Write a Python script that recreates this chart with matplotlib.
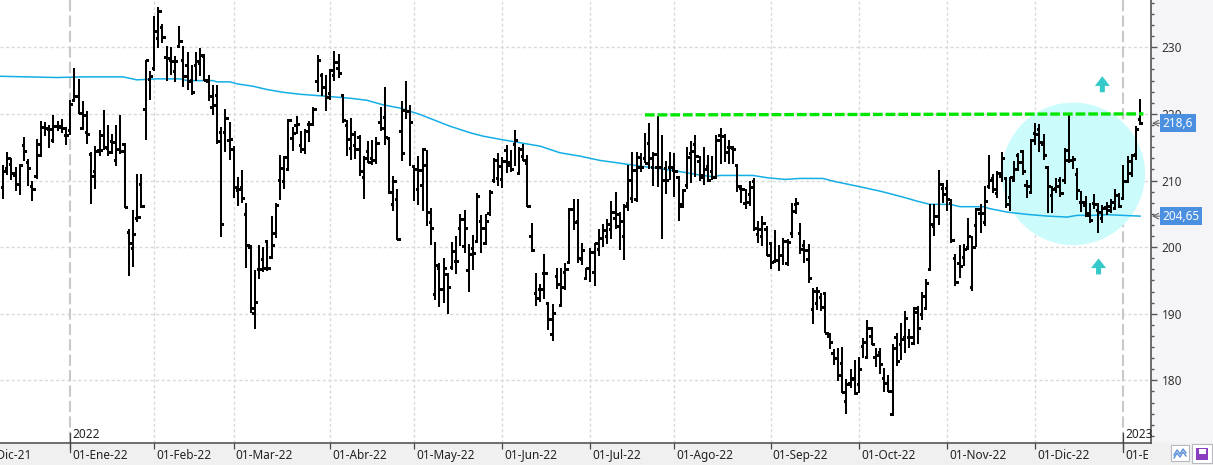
import matplotlib
matplotlib.use("Agg")
import matplotlib.pyplot as plt
import numpy as np
import pandas as pd
from matplotlib.patches import Ellipse, Rectangle, Polygon
from matplotlib.transforms import blended_transform_factory, ScaledTranslation
from matplotlib.ticker import MultipleLocator, FixedLocator

plt.rcParams['font.family'] = ['Noto Sans', 'DejaVu Sans']

# ---------------- data ----------------
holidays = ['2021-12-24', '2022-01-17', '2022-02-21', '2022-04-15', '2022-05-30',
            '2022-06-20', '2022-07-04', '2022-09-05', '2022-11-24', '2022-12-26',
            '2023-01-02']
dates = pd.bdate_range('2021-12-09', '2023-01-09', freq='C', holidays=holidays)

opens = [209.05, 211.9, 212.55, 210.9, 209.55, 215.3, 212.8, 209.15, 210.65, 213.9,
         218.05, 217.8, 216.15, 218.15, 218.05, 216.9, 217.65, 222.15, 222.65, 217.9,
         217.3, 214.0, 211.4, 214.55, 216.9, 214.9, 215.9, 213.15, 214.8, 215.5,
         202.3, 199.8, 204.4, 209.55, 220.8, 225.3, 226.9, 231.4, 233.05, 228.55,
         228.15, 226.4, 230.25, 228.05, 227.4, 225.15, 227.3, 227.65, 228.65, 224.9,
         221.05, 222.9, 217.3, 217.3, 216.15, 214.75, 208.5, 209.05, 205.0, 200.05,
         190.15, 196.65, 198.15, 200.9, 198.55, 202.15, 210.15, 210.0, 211.8, 216.4,
         218.4, 215.3, 214.8, 218.55, 218.55, 225.0, 225.9, 224.0, 223.15, 225.9,
         226.9, 222.9, 218.4, 214.9, 215.4, 216.55, 210.55, 214.4, 213.4, 213.15,
         218.75, 219.55, 216.4, 206.4, 207.15, 217.5, 220.65, 220.4, 212.15, 208.65,
         209.4, 212.4, 203.8, 192.9, 196.9, 193.65, 196.0, 197.05, 197.9, 202.9,
         200.15, 196.5, 199.8, 200.9, 203.95, 200.65, 205.15, 210.15, 210.4, 210.25,
         214.65, 212.75, 215.5, 211.15, 213.75, 212.65, 201.7, 193.05, 193.65, 196.05,
         191.55, 187.0, 195.65, 191.3, 196.25, 197.75, 205.75, 203.9, 198.25, 195.4,
         196.9, 196.3, 199.65, 201.3, 201.65, 202.65, 204.4, 204.9, 201.65, 206.55,
         207.3, 207.15, 213.5, 213.4, 215.65, 212.05, 212.05, 212.05, 211.9, 212.05,
         211.65, 210.55, 206.15, 209.4, 214.15, 215.5, 212.9, 210.5, 212.15, 211.4,
         210.55, 216.8, 216.65, 215.05, 214.9, 212.4, 208.9, 206.65, 208.0, 209.9,
         202.0, 201.65, 202.65, 200.55, 197.9, 198.0, 198.8, 197.65, 202.15, 206.4,
         202.15, 200.25, 198.15, 190.65, 191.65, 192.55, 193.05, 186.65, 184.15, 183.4,
         182.65, 176.9, 179.55, 180.15, 179.4, 185.15, 183.5, 186.65, 183.5, 184.3,
         180.4, 179.55, 175.0, 186.55, 185.4, 186.55, 186.55, 185.55, 190.8, 189.9,
         190.8, 196.65, 203.15, 204.65, 208.8, 208.9, 206.65, 198.4, 197.65, 198.5,
         200.05, 194.05, 203.25, 205.05, 203.75, 209.15, 210.4, 208.05, 210.65, 210.4,
         207.55, 210.15, 213.9, 214.4, 209.4, 208.25, 217.15, 217.75, 215.55, 212.05,
         207.8, 208.9, 210.15, 210.15, 213.05, 213.15, 211.05, 206.75, 206.3, 205.05,
         206.65, 205.55, 204.3, 206.0, 205.55, 205.9, 207.75, 207.4, 209.9, 211.15,
         214.05, 219.3]
highs = [212.3, 214.3, 213.4, 212.05, 212.55, 216.5, 213.3, 209.9, 216.25, 219.0,
         218.8, 218.3, 219.9, 219.0, 219.3, 218.05, 222.15, 226.9, 225.25, 222.0,
         220.5, 214.3, 215.15, 217.65, 220.65, 218.4, 217.0, 218.4, 219.8, 215.65,
         202.75, 205.5, 211.0, 211.05, 228.15, 226.4, 234.75, 236.0, 233.55, 230.25,
         230.0, 228.75, 233.25, 230.15, 229.25, 227.4, 229.25, 229.9, 229.0, 225.9,
         224.3, 224.4, 218.05, 220.8, 218.75, 215.25, 210.55, 211.65, 206.55, 200.3,
         196.55, 200.25, 200.05, 201.05, 204.65, 206.55, 213.8, 213.65, 219.3, 218.05,
         219.75, 217.4, 217.75, 219.0, 221.05, 228.9, 226.15, 225.8, 226.8, 229.4,
         229.05, 222.9, 219.15, 219.4, 217.4, 216.9, 213.65, 215.9, 216.15, 216.55,
         221.05, 224.0, 216.55, 210.65, 208.65, 221.9, 225.0, 221.4, 212.4, 213.65,
         214.9, 214.65, 205.8, 200.8, 197.65, 198.4, 196.15, 200.75, 201.65, 204.9,
         205.5, 200.5, 201.8, 208.05, 204.8, 204.9, 208.5, 213.4, 214.15, 213.5,
         215.4, 214.55, 217.65, 215.05, 215.5, 213.8, 203.55, 196.05, 194.4, 198.9,
         191.75, 191.4, 196.8, 196.9, 197.55, 205.8, 207.15, 207.15, 200.65, 196.9,
         199.9, 200.65, 202.65, 203.5, 204.15, 206.9, 208.25, 205.25, 206.4, 212.4,
         214.25, 214.25, 214.15, 217.15, 218.65, 214.3, 219.65, 216.9, 212.9, 214.25,
         214.15, 210.55, 208.75, 215.0, 216.0, 216.8, 213.65, 215.0, 213.8, 213.65,
         216.9, 217.9, 217.0, 216.15, 215.25, 212.4, 209.4, 208.65, 209.9, 210.4,
         203.9, 204.65, 203.15, 200.65, 202.5, 200.25, 201.3, 201.15, 206.55, 207.3,
         203.55, 201.0, 200.4, 193.9, 194.05, 193.15, 193.25, 187.05, 184.65, 184.8,
         185.0, 180.15, 181.65, 183.0, 183.55, 186.4, 189.0, 188.05, 184.9, 184.9,
         181.9, 180.75, 185.5, 187.15, 188.65, 190.4, 187.75, 191.05, 191.15, 193.3,
         195.25, 206.4, 206.4, 211.65, 209.65, 210.15, 207.15, 198.9, 200.25, 200.5,
         204.3, 201.65, 205.9, 206.4, 209.15, 213.9, 211.05, 211.4, 214.25, 210.55,
         210.5, 213.0, 214.15, 214.55, 210.15, 216.3, 218.65, 218.5, 217.0, 212.25,
         209.15, 210.4, 210.55, 214.9, 219.9, 213.65, 211.9, 208.4, 207.65, 206.65,
         208.0, 206.65, 206.25, 206.75, 207.15, 208.65, 208.15, 212.4, 213.65, 214.0,
         218.25, 222.25]
lows = [207.15, 210.8, 210.05, 208.4, 207.8, 212.9, 209.15, 206.9, 210.3, 213.8,
        216.65, 214.9, 215.65, 217.4, 217.15, 215.4, 216.9, 221.75, 220.0, 217.65,
        215.55, 206.5, 208.75, 213.75, 214.65, 213.65, 214.05, 212.15, 214.05, 205.9,
        195.65, 197.05, 203.8, 205.9, 216.05, 222.05, 226.5, 229.9, 230.65, 224.9,
        225.9, 224.75, 230.15, 224.0, 223.55, 222.8, 224.9, 225.65, 225.0, 221.9,
        219.9, 215.55, 201.5, 214.25, 213.15, 207.3, 206.15, 206.55, 196.9, 190.05,
        187.65, 195.25, 196.25, 196.4, 198.25, 201.4, 207.05, 208.75, 211.75, 214.5,
        217.05, 214.15, 214.05, 215.75, 218.25, 223.25, 222.75, 220.4, 222.05, 225.0,
        225.4, 218.65, 213.65, 213.05, 213.3, 210.65, 207.15, 212.65, 212.4, 212.55,
        217.4, 215.3, 208.0, 205.4, 201.05, 213.0, 219.3, 212.25, 206.9, 206.25,
        205.4, 203.15, 200.3, 192.05, 191.0, 191.65, 190.0, 196.55, 196.0, 200.15,
        199.05, 193.25, 196.55, 200.75, 199.05, 200.5, 204.65, 209.65, 209.15, 208.8,
        211.15, 211.3, 212.15, 210.8, 212.9, 206.05, 199.3, 191.15, 191.75, 192.15,
        187.5, 185.9, 193.75, 191.15, 193.5, 197.45, 202.5, 197.65, 197.3, 195.4,
        194.75, 194.15, 198.65, 200.0, 200.4, 201.15, 202.65, 199.5, 198.05, 205.4,
        206.65, 206.8, 211.3, 212.65, 211.8, 209.15, 209.0, 201.15, 208.0, 210.05,
        207.5, 203.9, 206.0, 208.65, 209.65, 210.55, 209.9, 209.3, 209.8, 210.15,
        210.5, 212.55, 212.75, 212.55, 212.55, 208.3, 206.65, 205.65, 206.15, 202.4,
        200.65, 200.15, 198.65, 196.65, 197.9, 196.4, 197.3, 197.15, 201.4, 205.0,
        199.0, 197.65, 194.55, 188.4, 190.5, 190.4, 187.15, 184.75, 182.3, 179.9,
        178.15, 174.9, 178.9, 177.75, 178.15, 183.4, 183.4, 185.25, 182.0, 180.9,
        178.25, 178.25, 174.9, 182.15, 183.0, 184.15, 184.9, 185.25, 185.5, 189.05,
        190.8, 196.55, 201.65, 203.25, 206.55, 205.4, 200.55, 194.15, 195.4, 197.15,
        199.55, 193.4, 200.05, 202.15, 203.15, 208.65, 208.15, 207.4, 209.8, 205.9,
        205.4, 210.05, 211.5, 210.9, 207.3, 208.25, 215.4, 214.25, 213.05, 205.15,
        205.15, 208.05, 207.55, 209.5, 212.65, 211.75, 207.0, 205.25, 204.55, 203.65,
        205.65, 202.15, 203.65, 204.8, 205.15, 205.8, 205.8, 207.4, 209.65, 210.5,
        213.05, 218.4]
closes = [211.5, 213.4, 211.15, 209.55, 212.4, 214.4, 211.9, 208.75, 215.5, 218.05,
          217.9, 217.8, 218.15, 218.15, 217.9, 216.8, 221.5, 222.65, 220.1, 219.9,
          217.05, 210.65, 214.4, 214.65, 215.05, 214.25, 215.8, 214.8, 214.4, 206.05,
          200.65, 202.0, 204.55, 206.15, 228.05, 225.65, 232.5, 235.5, 231.55, 228.4,
          228.0, 227.9, 231.0, 225.75, 225.0, 223.3, 227.9, 228.9, 225.15, 222.75,
          221.4, 216.0, 203.5, 219.4, 216.25, 209.05, 208.65, 207.3, 200.3, 190.8,
          191.8, 196.65, 196.9, 196.9, 200.3, 206.25, 211.9, 213.55, 219.15, 217.15,
          218.55, 214.75, 217.5, 218.55, 220.8, 228.15, 224.0, 222.55, 226.55, 227.8,
          226.15, 219.15, 216.25, 217.05, 214.75, 211.5, 213.4, 212.8, 213.15, 215.65,
          217.9, 216.55, 208.25, 210.0, 201.15, 214.15, 220.4, 218.75, 211.8, 211.55,
          214.75, 205.3, 202.9, 197.25, 193.65, 196.8, 194.05, 199.4, 197.9, 204.15,
          202.9, 199.0, 199.15, 207.65, 202.8, 203.9, 208.25, 213.15, 212.15, 213.0,
          212.4, 211.8, 216.15, 214.75, 213.15, 206.15, 199.55, 192.4, 193.65, 196.15,
          189.15, 190.15, 194.5, 194.0, 196.65, 205.65, 203.8, 198.3, 199.55, 196.9,
          199.3, 200.65, 201.3, 202.55, 203.4, 205.25, 203.15, 203.9, 206.15, 210.15,
          211.65, 212.05, 212.05, 212.65, 213.4, 214.05, 212.05, 210.15, 210.15, 212.05,
          211.5, 206.5, 208.5, 213.5, 214.5, 213.65, 210.9, 211.75, 210.15, 210.55,
          216.15, 216.65, 214.25, 215.05, 214.75, 209.15, 208.65, 206.8, 209.0, 202.9,
          202.65, 203.65, 198.8, 197.75, 198.0, 198.8, 200.9, 200.8, 205.4, 206.65,
          199.75, 199.5, 195.4, 193.4, 193.4, 191.05, 187.15, 185.8, 183.4, 180.75,
          178.25, 179.4, 180.3, 178.05, 181.65, 185.75, 187.8, 185.4, 183.75, 182.4,
          179.55, 178.4, 184.9, 182.9, 186.15, 189.4, 186.55, 190.25, 187.9, 192.65,
          194.55, 203.5, 204.65, 209.5, 207.9, 207.25, 201.05, 194.8, 197.15, 199.75,
          201.65, 200.0, 205.65, 205.15, 206.9, 210.15, 208.65, 211.15, 213.4, 206.4,
          210.5, 211.8, 212.8, 211.5, 209.15, 216.15, 217.05, 215.75, 213.8, 209.15,
          208.75, 209.15, 208.15, 214.65, 213.15, 213.3, 208.5, 206.75, 204.75, 204.0,
          206.5, 205.25, 205.9, 206.15, 206.75, 207.75, 206.15, 209.9, 213.0, 213.8,
          217.75, 218.6]

# 200-session moving average (bar index, value)
ma_idx = [-0.7, 12.9, 19.1, 28.6, 31.9, 36.7, 42.2, 43.9, 50.0, 51.0, 54.1, 55.8,
          59.6, 62.9, 66.7, 70.8, 74.8, 78.6, 82.7, 86.7, 90.6, 94.6, 99.4, 106.5,
          111.3, 114.4, 119.6, 128.0, 132.7, 137.5, 142.3, 146.3, 150.1, 154.9, 159.0,
          163.0, 166.1, 169.2, 170.9, 178.7, 182.1, 186.4, 189.9, 195.4, 197.8, 203.5,
          209.0, 214.5, 217.8, 220.9, 225.7, 228.1, 233.6, 235.2, 239.3, 244.0, 248.8,
          253.6, 256.0, 259.8, 263.1, 271.0]
ma_val = [225.65, 225.46, 225.56, 225.56, 225.11, 225.26, 225.26, 225.0, 225.0, 224.81,
          224.81, 224.51, 224.15, 223.66, 223.25, 222.95, 222.76, 222.56, 222.35, 222.05,
          221.36, 220.88, 219.91, 218.16, 217.17, 216.66, 216.06, 215.16, 214.17, 213.66,
          213.01, 212.67, 212.31, 211.92, 211.56, 211.17, 210.81, 210.57, 210.76, 210.76,
          210.42, 210.16, 210.31, 210.31, 209.91, 209.16, 208.41, 207.51, 206.91, 206.42,
          206.42, 206.07, 206.07, 205.77, 205.26, 204.92, 204.66, 204.51, 204.77, 204.77,
          204.87, 204.65]

last_price = 218.6
ma_last = 204.65
resistance = [219.85, 220.0]          # dashed green line level
y_ticks = [180, 190, 200, 210, 220, 230]
month_abbr = ['Ene', 'Feb', 'Mar', 'Abr', 'May', 'Jun', 'Jul', 'Ago', 'Sep', 'Oct', 'Nov', 'Dic']

n = min(len(dates), len(opens), len(highs), len(lows), len(closes))
dates = dates[:n]
o = np.array(opens[:n]); h = np.array(highs[:n]); l = np.array(lows[:n]); c = np.array(closes[:n])
xs = np.arange(n)

# month starts (position in bar index)
month_pos, month_lab = [], []
pre = len(pd.bdate_range('2021-12-01', '2021-12-08', freq='C', holidays=holidays))
month_pos.append(-pre)
month_lab.append('01-Dic-21')
per = pd.PeriodIndex(dates, freq='M')
for i in range(1, n):
    if per[i] != per[i - 1]:
        month_pos.append(i)
        d = dates[i]
        month_lab.append('01-%s-%02d' % (month_abbr[d.month - 1], d.year % 100))
year_pos = [p for p, lab in zip(month_pos, month_lab) if lab.startswith('01-Ene')]
year_lab = [str(dates[p].year) for p in year_pos]

# ---------------- figure ----------------
W, H = 1213, 465
fig = plt.figure(figsize=(W / 100, H / 100), dpi=100, facecolor='#f0f0f0')
ax = fig.add_axes([0, 22 / H, 1151 / W, 443 / H])
ax.set_facecolor('white')
fig.add_artist(Rectangle((1151 / W, 22 / H), 1 - 1151 / W, 1 - 22 / H, transform=fig.transFigure,
                         facecolor='#f5f5f7', edgecolor='none', zorder=-1))

ax.set_xlim(-0.715, 273.6)
ax.set_ylim(170.59, 237.1)

# grid
for yv in y_ticks:
    ax.axhline(yv, color='#d9d9d9', lw=1.0, ls=(0, (2.2, 1.8)), zorder=0.5)
for p in month_pos:
    if p in year_pos:
        ax.axvline(p, color='#c9c9c9', lw=1.5, ls=(0, (5.4, 2.0)), zorder=0.5)
    else:
        ax.axvline(p, color='#d9d9d9', lw=1.0, ls=(0, (2.2, 1.8)), zorder=0.5)

# highlight circle
ax.add_patch(Ellipse((255.1, 211.0), 34.15, 21.4, facecolor='#ccfbfc', edgecolor='none', zorder=1))

# moving average
ax.plot(ma_idx, ma_val, color='#14aee6', lw=1.1, zorder=2)

# OHLC bars
ax.vlines(xs, l, h, colors='black', linewidth=1.44, zorder=3, antialiased=False)
ax.hlines(o, xs - 0.55, xs, colors='black', linewidth=0.9, zorder=3, antialiased=False)
ax.hlines(c, xs, xs + 0.55, colors='black', linewidth=0.9, zorder=3, antialiased=False)

# resistance line
ax.plot([153, 271.8], resistance, color='#00e600', lw=2.4, dashes=(2.9, 0.9),
        solid_capstyle='butt', dash_capstyle='butt', zorder=4)

# up arrows
def up_arrow(cx, top, bottom):
    hw, sw, hh = 1.79, 0.6, 1.45
    pts = [(cx, top), (cx + hw, top - hh), (cx + sw, top - hh), (cx + sw, bottom),
           (cx - sw, bottom), (cx - sw, top - hh), (cx - hw, top - hh)]
    ax.add_patch(Polygon(pts, closed=True, facecolor='#36c9c9', edgecolor='none', zorder=5))

up_arrow(262.0, 225.65, 223.25)
up_arrow(261.1, 198.3, 195.9)

# axes styling
for s in ['top', 'left']:
    ax.spines[s].set_visible(False)
for s in ['right', 'bottom']:
    ax.spines[s].set_color('#555555')
    ax.spines[s].set_linewidth(1.2)

ax.yaxis.tick_right()
ax.yaxis.set_major_locator(FixedLocator(y_ticks))
ax.yaxis.set_minor_locator(MultipleLocator(10 / 6))
ax.set_yticklabels([str(v) for v in y_ticks])
ax.tick_params(axis='y', which='major', length=4.6, width=1.0, color='#555555',
               labelsize=8.5, labelcolor='#333333', pad=3)
ax.tick_params(axis='y', which='minor', length=2.4, width=1.0, color='#555555')

in_pos = [p for p in month_pos if p >= ax.get_xlim()[0]]
ax.set_xticks(in_pos)
ax.set_xticklabels([])
ax.tick_params(axis='x', which='major', length=4.5, width=0.9, color='#444444', direction='out')

tr = blended_transform_factory(ax.transData, ax.transAxes) + ScaledTranslation(2 / 100, 0, fig.dpi_scale_trans)
for p, lab in zip(month_pos, month_lab):
    ax.text(p, -12 / 443, lab, transform=tr, ha='left', va='center', fontsize=8.5,
            color='#222222', clip_on=False)
trl = blended_transform_factory(ax.transData, ax.transAxes)
for p, lab in zip(year_pos, year_lab):
    ax.plot([p, p], [10 / 443, -9 / 443], color='#444444', lw=0.9, transform=trl, clip_on=False, zorder=6)
    ax.text(p, 9 / 443, lab, transform=tr, ha='left', va='center', fontsize=8.5,
            color='#222222', clip_on=False)

# price labels on the right axis
trr = blended_transform_factory(ax.transAxes, ax.transData)
for val, txt in [(last_price, '218,6'), (ma_last, '204,65')]:
    ax.annotate('', xy=(1.0008, val), xytext=(1.0075, val), xycoords=trr, textcoords=trr,
                arrowprops=dict(arrowstyle='->', color='#666666', lw=0.8, shrinkA=0, shrinkB=0),
                annotation_clip=False)
    ax.text(1.0103, val, txt, transform=trr, ha='left', va='center', fontsize=8.5, color='white',
            bbox=dict(boxstyle='square,pad=0.2', facecolor='#4a8fe0', edgecolor='none'),
            clip_on=False, zorder=7)

# cover bottom-right corner and draw the small buttons
fig.add_artist(Rectangle((1148 / W, 0), 1 - 1148 / W, 21.4 / H, transform=fig.transFigure,
                         facecolor='#f0f0f0', edgecolor='none', zorder=5))

def fx(px):
    return px / W

def fy(py):
    return (H - py) / H

fig.add_artist(Rectangle((fx(1171), fy(461)), 18 / W, 16 / H, transform=fig.transFigure,
                         facecolor='white', edgecolor='#b8b8c0', lw=0.8, zorder=6))
zig_x = [1174, 1177, 1180, 1183, 1186]
zig_y = [455, 450, 454, 449, 453]
fig.add_artist(plt.Line2D([fx(v) for v in zig_x], [fy(v) for v in zig_y], transform=fig.transFigure,
                          color='#5a8fd8', lw=1.0, zorder=7))
fig.add_artist(plt.Line2D([fx(v) for v in zig_x], [fy(v + 3) for v in zig_y], transform=fig.transFigure,
                          color='#5a8fd8', lw=1.0, zorder=7))
fig.add_artist(Rectangle((fx(1192), fy(463)), 20 / W, 19 / H, transform=fig.transFigure,
                         facecolor='white', edgecolor='#b8b8c0', lw=0.8, zorder=6))
fig.add_artist(Rectangle((fx(1196), fy(460)), 12 / W, 12 / H, transform=fig.transFigure,
                         facecolor='#8a3fc0', edgecolor='none', zorder=7))
fig.add_artist(Rectangle((fx(1198.5), fy(454)), 7 / W, 5 / H, transform=fig.transFigure,
                         facecolor='white', edgecolor='none', zorder=8))

fig.savefig('out.png', dpi=100, facecolor=fig.get_facecolor())
